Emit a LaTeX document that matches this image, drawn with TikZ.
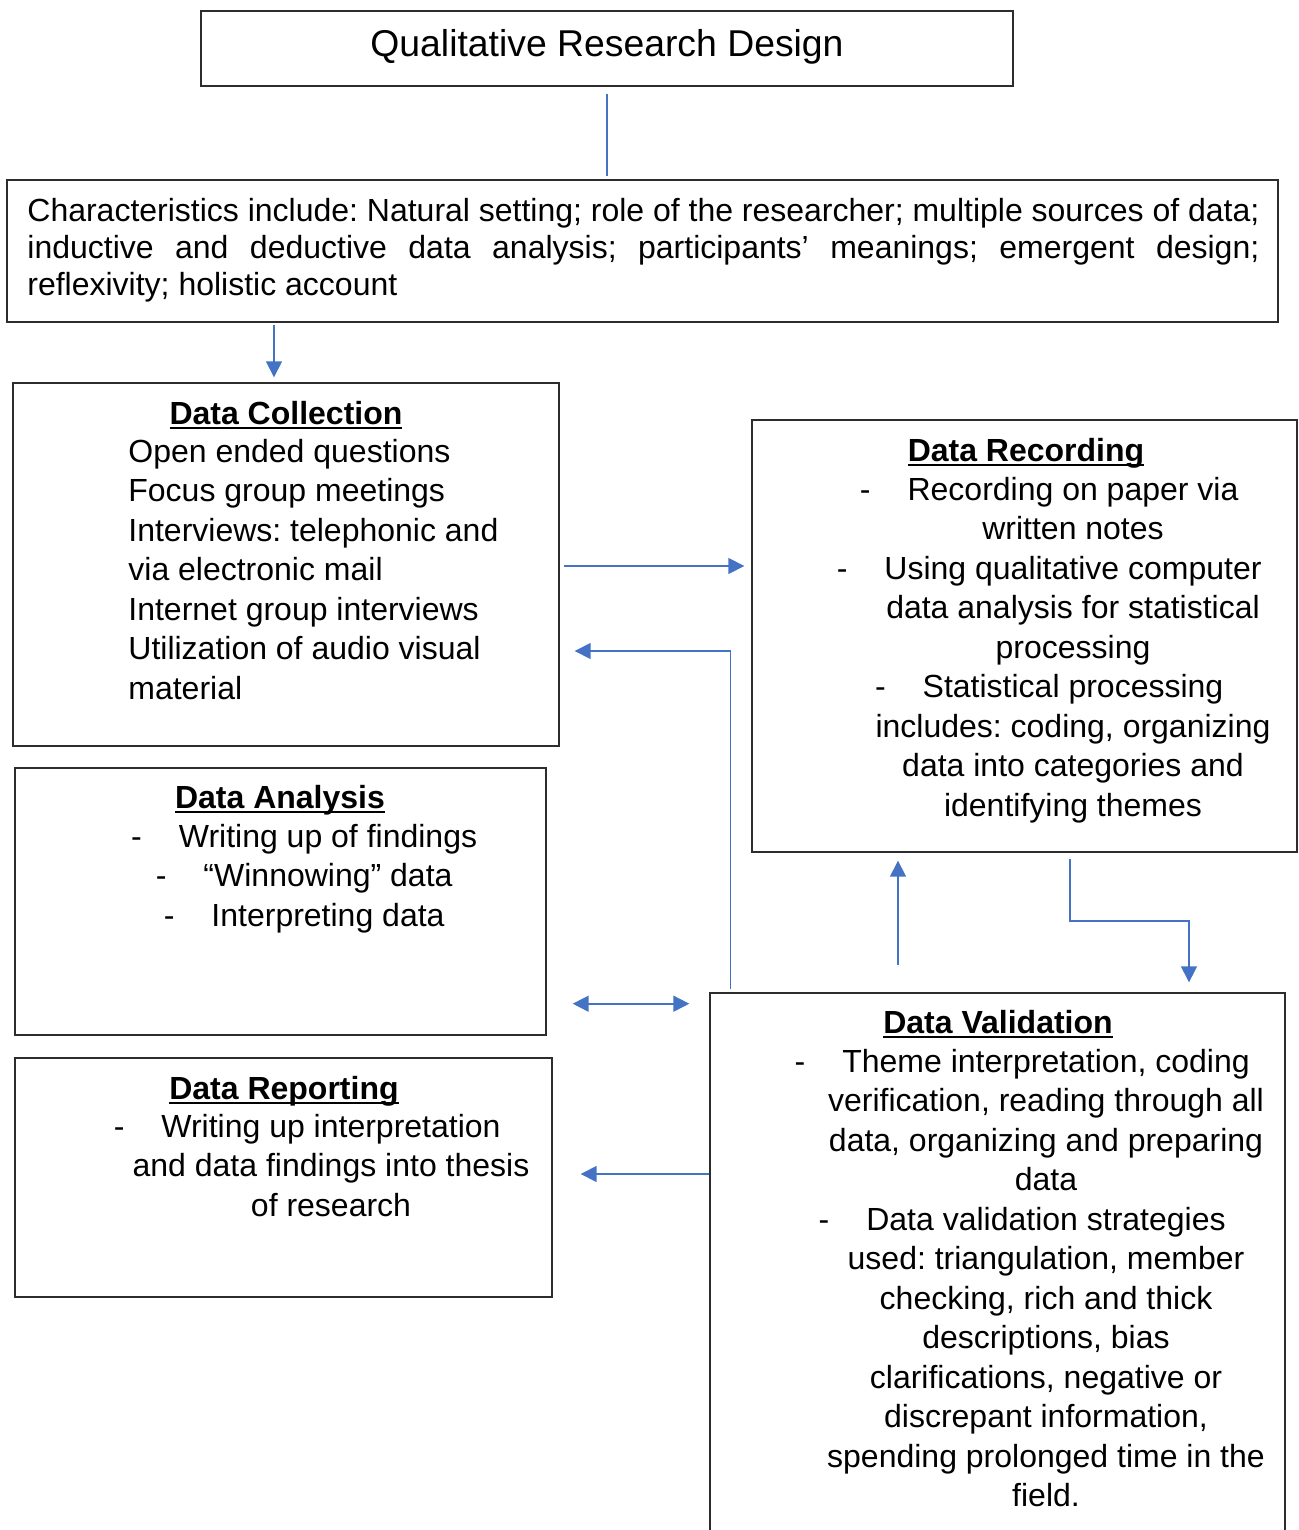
\documentclass[tikz,border=0pt]{standalone}
\usepackage{fontspec}
\setmainfont{Liberation Sans}
\usetikzlibrary{arrows.meta,fit,calc}
\definecolor{LinkBlue}{RGB}{68,114,196}
\definecolor{FrameGray}{RGB}{45,45,45}
\newcommand{\bodysize}{\fontsize{16}{19.75}\selectfont\frenchspacing}
\newcommand{\headtext}[1]{\setbox0\hbox{\textbf{#1}}\rlap{\rule[-2.4pt]{\wd0}{1.1pt}}\box0}
\newcommand{\itemdash}{\llap{-\hspace{18.5pt}}}
\tikzset{
  panel/.style={draw=FrameGray,line width=0.7pt,inner sep=0pt},
  headnode/.style={anchor=base,font=\bodysize,inner sep=0pt},
  bodynode/.style={anchor=north,align=center,font=\bodysize,inner sep=0pt},
  link/.style={draw=LinkBlue,line width=0.8pt},
  arr/.style={link,-{Triangle[length=8pt,width=8pt]}},
  twoway/.style={link,{Triangle[length=8pt,width=8pt]}-{Triangle[length=8pt,width=8pt]}}
}

\begin{document}
\begin{tikzpicture}[x=0.5pt,y=-0.5pt]
  \useasboundingbox (0,0) rectangle (1298,1530);
  % boxes
  \node[panel,fit={(201,11) (1013,86)}] (title) {};
  \node[panel,fit={(7,180) (1278,322)}] (char) {};
  \node[panel,fit={(13,383) (559,746)}] (coll) {};
  \node[panel,fit={(752,420) (1297,852)}] (rec) {};
  \node[panel,fit={(15,768) (546,1035)}] (anal) {};
  \node[panel,fit={(15,1058) (552,1297)}] (rep) {};
  \node[panel,fit={(710,993) (1285,1545)}] (valid) {};

  % texts
  \node[headnode,font=\fontsize{18.67}{21.5}\selectfont] (titleText) at (607,56.4)
    {Qualitative Research Design};
  \node[anchor=north west,inner sep=0pt,text width=616pt,align=justify,
    font=\fontsize{16}{18.5}\selectfont\frenchspacing] (charText) at (27,197.5)
    {\hyphenpenalty=10000
     Characteristics include: Natural setting; role of the researcher; multiple sources of data;\linebreak
     inductive and deductive data analysis; participants’ meanings; emergent design;\linebreak
     reflexivity; holistic account};

  \node[headnode] (collHead) at (286,424) {\headtext{Data Collection}};
  \node[bodynode,anchor=north west,align=left] (collText) at (128,438.5)
    {Open ended questions\\ Focus group meetings\\ Interviews: telephonic and\\
     via electronic mail\\ Internet group interviews\\ Utilization of audio visual\\ material};

  \node[headnode] (recHead) at (1026,461) {\headtext{Data Recording}};
  \node[bodynode] (recText) at (1073,476.5)
    {\itemdash Recording on paper via\\ written notes\\
     \itemdash Using qualitative computer\\ data analysis for statistical\\ processing\\
     \itemdash Statistical processing\\ includes: coding, organizing\\
     data into categories and\\ identifying themes};

  \node[headnode] (analHead) at (280,808) {\headtext{Data Analysis}};
  \node[bodynode] (analText) at (328,823.5)
    {\itemdash Writing up of findings\\ \itemdash “Winnowing” data\\ \itemdash Interpreting data};

  \node[headnode] (repHead) at (284,1099) {\headtext{Data Reporting}};
  \node[bodynode] (repText) at (331,1113.5)
    {\itemdash Writing up interpretation\\ and data findings into thesis\\ of research};

  \node[headnode] (validHead) at (998,1033) {\headtext{Data Validation}};
  \node[bodynode] (validText) at (1046,1048.5)
    {\itemdash Theme interpretation, coding\\ verification, reading through all\\
     data, organizing and preparing\\ data\\
     \itemdash Data validation strategies\\ used: triangulation, member\\
     checking, rich and thick\\ descriptions, bias\\ clarifications, negative or\\
     discrepant information,\\ spending prolonged time in the\\ field.};

  % connectors
  \coordinate (collOut) at ([yshift=-0.75pt]coll.east);
  \coordinate (backIn) at ([xshift=7.5pt,yshift=-43.25pt]coll.east);
  \coordinate (midAV) at ([yshift=16pt]anal.south east);
  \coordinate (repIn) at ([yshift=1.75pt]rep.east);

  \draw[link,shorten <=3.5pt,shorten >=1.5pt] (title.south) -- (title.south |- char.north);
  \draw[arr,shorten <=1pt,shorten >=2.5pt]
    ([xshift=-6pt]coll.north |- char.south) -- ([xshift=-6pt]coll.north);
  \draw[arr,shorten <=2pt,shorten >=3.5pt] (collOut) -- (collOut -| rec.west);
  \draw[arr] ([xshift=10.5pt,yshift=1.5pt]valid.north west) |- (backIn);
  \draw[twoway,shorten >=10pt] ([xshift=13pt]midAV) -- (midAV -| valid.west);
  \draw[arr,shorten <=13.5pt,shorten >=4pt]
    ([xshift=-49.75pt]valid.north) -- ([xshift=-49.75pt]valid.north |- rec.south);
  \draw[arr,shorten <=3pt,shorten >=5pt]
    ([xshift=22.75pt]rec.south) -- ++(0,-34pt) -| ([xshift=95.75pt]valid.north);
  \draw[arr,shorten >=14pt] (repIn -| valid.west) -- (repIn);
\end{tikzpicture}
\end{document}
